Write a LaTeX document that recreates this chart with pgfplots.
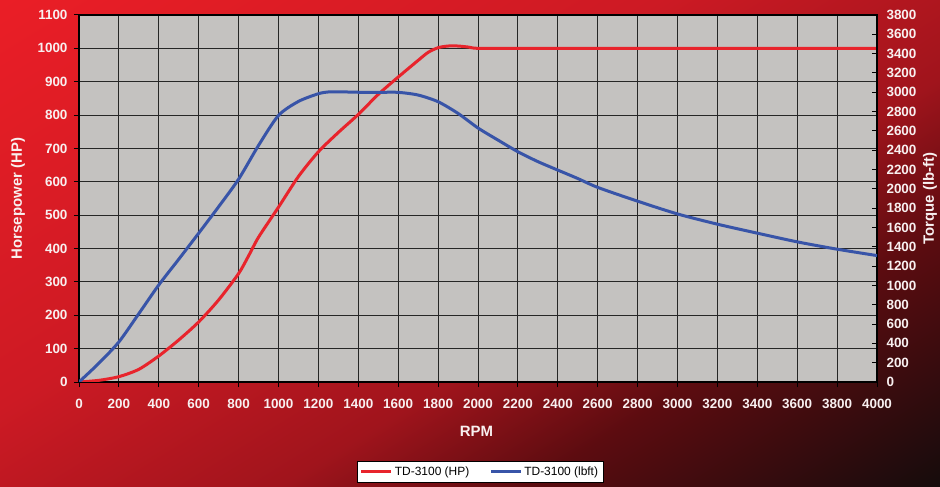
\documentclass[border=0pt]{standalone}
\usepackage{fontspec}
\setmainfont{Liberation Sans}
\usepackage{pgfplots}
\pgfplotsset{compat=1.18}

\definecolor{bgA}{RGB}{234,30,38}
\definecolor{bgB}{RGB}{205,26,36}
\definecolor{bgC}{RGB}{160,20,28}
\definecolor{bgD}{RGB}{92,12,16}
\definecolor{bgE}{RGB}{22,12,12}
\definecolor{plotgray}{RGB}{196,194,192}
\definecolor{hpred}{RGB}{232,36,44}
\definecolor{tqblue}{RGB}{56,84,168}
\definecolor{labelwhite}{RGB}{248,240,240}

% diagonal backdrop, bright red top left to near black bottom right
\pgfdeclarehorizontalshading{chartbg}{100bp}{color(0bp)=(bgA); color(15.6bp)=(bgA); color(41.8bp)=(bgB); color(58.1bp)=(bgC); color(68bp)=(bgD); color(84.4bp)=(bgE); color(100bp)=(bgE)}

\pgfplotsset{
  dyno/.style={
    at={(79bp,105bp)}, anchor=south west,
    scale only axis, width=798bp, height=367bp,
    xmin=0, xmax=4000,
    major tick length=5bp,
    every tick/.style={black, line width=1bp},
    axis line style={black, line width=1.2bp},
    ticklabel style={font=\bfseries\fontsize{13.5}{14}\selectfont, text=labelwhite},
    label style={font=\bfseries\fontsize{15}{16}\selectfont, text=labelwhite},
    /pgf/number format/assume math mode=true,
    /pgf/number format/1000 sep={},
    scaled ticks=false,
  },
  hp/.style={hpred, line width=3bp},
  tq/.style={tqblue, line width=3bp},
}

\begin{document}
\begin{tikzpicture}
\path[use as bounding box] (0,0) rectangle (940bp,487bp);
\shade[shading=chartbg, shading angle=-58.3] (0,0) rectangle (940bp,487bp);

\begin{axis}[dyno,
  ymin=0, ymax=1100,
  xtick distance=200, ytick distance=100,
  tick pos=left, tick align=outside,
  xticklabel style={yshift=-9bp},
  yticklabel style={xshift=-3bp},
  grid=major, major grid style={black!85, line width=1bp},
  axis background/.style={fill=plotgray},
  xlabel={RPM}, ylabel={Horsepower (HP)},
  xlabel style={at={(axis description cs:0.498,-0.1335)}, anchor=center},
  ylabel style={at={(axis description cs:-0.0764,0.5)}, anchor=center},
  legend style={at={(axis description cs:0.5025,-0.245)}, anchor=center,
    draw=black, line width=0.8bp, fill=white,
    font=\fontsize{12}{13}\selectfont, legend columns=2,
    inner ysep=3bp,
    /tikz/every even column/.append style={column sep=18bp}},
  legend image code/.code={\draw[#1] (0bp,0bp) -- (30bp,0bp);},
]
% horsepower
\addplot[hp, smooth, tension=0.45] coordinates {
  (0,0) (100,5) (200,16) (300,38) (400,78) (500,126) (600,180) (700,246)
  (800,325) (850,378) (900,434) (1000,524) (1100,616) (1200,690) (1300,748)
  (1400,802) (1500,862) (1600,914) (1700,964) (1750,988) (1800,1002)
  (1850,1007) (1900,1007) (1950,1004) (2000,1000) (2200,1000) (4000,1000)
};
\addlegendentry{TD-3100 (HP)}
\addlegendimage{tq}
\addlegendentry{TD-3100 (lbft)}
\end{axis}

\begin{axis}[dyno,
  ymin=0, ymax=3800,
  axis x line=none, axis y line*=right,
  ytick distance=200, tick align=inside,
  yticklabel style={xshift=6bp},
  ylabel={Torque (lb-ft)},
  ylabel style={at={(axis description cs:1.0664,0.5)}, anchor=center},
]
% torque
\addplot[tq, smooth, tension=0.45] coordinates {
  (0,0) (100,195) (200,415) (300,708) (400,1005) (500,1271) (600,1541)
  (700,1815) (800,2100) (900,2450) (1000,2760) (1100,2905) (1200,2985)
  (1250,3003) (1300,3005) (1400,3000) (1500,2999) (1600,2999) (1700,2971)
  (1800,2902) (1900,2781) (2000,2630) (2100,2505) (2200,2384) (2300,2282)
  (2400,2194) (2500,2107) (2600,2015) (2800,1872) (3000,1740) (3200,1634)
  (3400,1541) (3600,1451) (3800,1375) (4000,1309)
};
\end{axis}
\end{tikzpicture}
\end{document}
